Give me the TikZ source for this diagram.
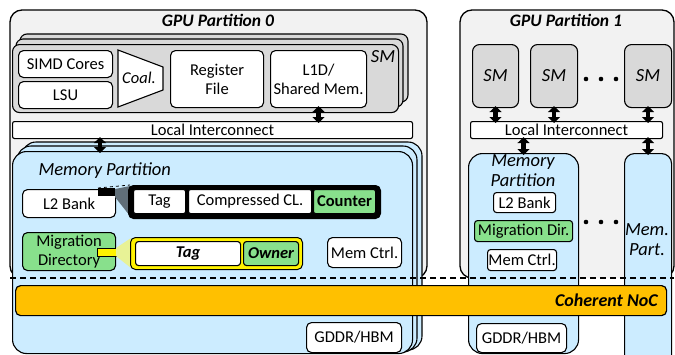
\documentclass[tikz,border=0pt]{standalone}
\usepackage{fontspec}
\setmainfont{Carlito}
\usetikzlibrary{arrows.meta}

\definecolor{partgray}{RGB}{242,242,242}
\definecolor{smgray}{RGB}{217,217,217}
\definecolor{memblue}{RGB}{204,236,255}
\definecolor{migreen}{RGB}{136,224,140}
\definecolor{nocorange}{RGB}{255,192,0}
\definecolor{paleyellow}{RGB}{232,242,150}
\definecolor{slate}{RGB}{96,110,120}

\tikzset{
  blk/.style={draw, fill=white, rounded corners=5pt, line width=1.1pt, anchor=north west, inner sep=0pt, align=center},
  part/.style={fill=partgray, rounded corners=12pt},
  partline/.style={line width=1.3pt, rounded corners=12pt},
  smbox/.style={draw, fill=smgray, rounded corners=7pt, line width=1.1pt, inner sep=0pt},
  membox/.style={draw, fill=memblue, rounded corners=14pt, line width=1.1pt, inner sep=0pt},
  dbl/.style={line width=4.5pt, {Triangle[width=12pt,length=6pt]}-{Triangle[width=12pt,length=6pt]}, shorten <=-2pt, shorten >=-2pt},
  big/.style={font=\fontsize{18.5}{20}\selectfont\itshape},
  ttl/.style={font=\fontsize{17.5}{20}\selectfont\bfseries\itshape},
}

\begin{document}
\begin{tikzpicture}[x=1pt, y=-1pt, font=\fontsize{16.5}{19}\selectfont]
    \useasboundingbox (0,0) rectangle (675,354);
    \clip (0,0) rectangle (675,354);

    % GPU partition 0
    \fill[part] (10,10) rectangle (427,278);
    \draw[partline] (22,278) -- (10,278) -- (10,10) -- (427,10) -- (427,278) -- (415,278);
    \node[ttl] (t0) at (218,20) {GPU Partition 0};

    % SM stack
    \draw[smbox] (20,34) rectangle (408,102);
    \draw[smbox] (16,39) rectangle (403,107);
    \node[smbox, anchor=north west, minimum width=386pt, minimum height=68pt] (sm0) at (12,44) {};
    \node[big] (smlbl) at (383,57) {SM};
    \node[blk, minimum width=94pt, minimum height=27pt] (simd) at (18,50) {SIMD Cores};
    \node[blk, minimum width=94pt, minimum height=27pt] (lsu) at (18,81) {LSU};
    \draw[fill=white, line width=1.1pt] (118,50) -- (163,67) -- (163,90) -- (118,107) -- cycle;
    \node (coal) at (139,78) {\itshape Coal.};
    \node[blk, minimum width=93pt, minimum height=57pt] (regf) at (170,50) {Register\\File};
    \node[blk, minimum width=96pt, minimum height=57pt] (lone) at (270,50) {L1D/\\Shared Mem.};

    % Local interconnect
    \node[blk, rounded corners=2pt, minimum width=400pt, minimum height=17pt] (li0) at (12,121) {Local Interconnect};

    % Memory partition stack
    \draw[membox] (22,142) rectangle (422,350);
    \draw[membox] (17,146) rectangle (417,352);
    \node[membox, anchor=north west, minimum width=400pt, minimum height=202pt] (mp0) at (12,151) {};
    \node[big, anchor=west] (mp0lbl) at (35,171) {Memory Partition};

    % L2 bank and compressed line
    \node[blk, minimum width=93pt, minimum height=28pt] (ltwo) at (22,189) {L2 Bank};
    \fill (98,188) rectangle (115,196);
    \fill[slate] (115,189) -- (130,186) -- (130,216) -- (115,197) -- cycle;
    \draw[dashed, line width=0.8pt] (98,188) -- (130,185);
    \node[draw, fill=black, rounded corners=5pt, line width=1pt, anchor=north west, minimum width=252pt, minimum height=33pt] (cl) at (128,185) {};
    \node[blk, rounded corners=2pt, minimum width=52pt, minimum height=24pt] (tag) at (133,189) {Tag};
    \node[blk, rounded corners=2pt, minimum width=123pt, minimum height=24pt] (ccl) at (188,189) {Compressed CL.};
    \node[blk, fill=migreen, rounded corners=2pt, minimum width=62pt, minimum height=24pt] (cnt) at (313,189) {\bfseries Counter};

    % Migration directory entry
    \node[blk, fill=migreen, minimum width=93pt, minimum height=38pt] (mig) at (22,232) {Migration\\Directory};
    \draw[fill=yellow, line width=0.8pt] (97,248) rectangle (116,256);
    \fill[paleyellow] (116,248) -- (131,238) -- (131,268) -- (116,256) -- cycle;
    \node[draw, fill=yellow, rounded corners=5pt, line width=1pt, anchor=north west, minimum width=172pt, minimum height=32pt] (dir) at (130,237) {};
    \node[blk, rounded corners=3pt, minimum width=105pt, minimum height=24pt] (dtag) at (135,241) {\bfseries\itshape Tag};
    \node[blk, fill=migreen, rounded corners=3pt, minimum width=55pt, minimum height=24pt] (own) at (243,241) {\bfseries\itshape Owner};
    \node[blk, minimum width=74pt, minimum height=30pt] (mc0) at (327,237) {Mem Ctrl.};

    % GPU partition 1
    \fill[part] (460,10) rectangle (674,278);
    \draw[partline] (472,278) -- (460,278) -- (460,10) -- (674,10) -- (674,278) -- (662,278);
    \node[ttl] (t1) at (566,20) {GPU Partition 1};
    \node[smbox, anchor=north west, minimum width=46pt, minimum height=63pt, big] (sma) at (472,44) {SM};
    \node[smbox, anchor=north west, minimum width=47pt, minimum height=63pt, big] (smb) at (530,44) {SM};
    \node[smbox, anchor=north west, minimum width=47pt, minimum height=63pt, big] (smc) at (624,44) {SM};
    \foreach \d in {586,601,616} \fill (\d,79) circle (2.3pt);
    \node[blk, rounded corners=2pt, minimum width=192pt, minimum height=17pt] (li1) at (470,121) {Local Interconnect};

    % Memory partitions of partition 1
    \node[membox, anchor=north west, minimum width=110pt, minimum height=200pt] (mp1) at (468,153) {};
    \node[big, align=center] (mp1lbl) at (523,171) {Memory\\Partition};
    \node[blk, rounded corners=3pt, minimum width=62pt, minimum height=20pt] (ltwob) at (493,192) {L2 Bank};
    \node[blk, fill=migreen, rounded corners=3pt, minimum width=98pt, minimum height=21pt] (migb) at (474,220) {Migration Dir.};
    \node[blk, rounded corners=3pt, minimum width=69pt, minimum height=21pt] (mc1) at (487,249) {Mem Ctrl.};
    \foreach \d in {586,601,616} \fill (\d,222) circle (2.3pt);
    \node[membox, rounded corners=10pt, anchor=north west, minimum width=47pt, minimum height=220pt] (mpx) at (624,153) {};
    \node[big, align=center] (mpxlbl) at (647,240) {Mem.\\Part.};

    % Partition border and NoC
    \draw[line width=1.4pt, dash pattern=on 6pt off 4pt] (10,278) -- (674,278);
    \node[draw, fill=nocorange, rounded corners=5pt, line width=1.2pt, anchor=north west, minimum width=651pt, minimum height=30pt] (noc) at (15,285) {};
    \node[font=\fontsize{18}{20}\selectfont\bfseries\itshape, anchor=east] (noclbl) at ([xshift=-6pt]noc.east) {Coherent NoC};
    \node[blk, minimum width=95pt, minimum height=30pt] (gd0) at (306,322) {GDDR/HBM};
    \node[blk, minimum width=90pt, minimum height=29pt] (gd1) at (476,323) {GDDR/HBM};

    % Links
    \coordinate (tap) at ([xshift=88pt]li0.south west);
    \draw[dbl] (lone.south) -- (lone.south |- li0.north);
    \draw[dbl] (tap) -- (tap |- mp0.north);
    \draw[dbl] (sma.south) -- (sma.south |- li1.north);
    \draw[dbl] (smb.south) -- (smb.south |- li1.north);
    \draw[dbl] (smc.south) -- (smc.south |- li1.north);
    \draw[dbl] (mp1.north |- li1.south) -- (mp1.north);
    \draw[dbl] (mpx.north |- li1.south) -- (mpx.north);
\end{tikzpicture}
\end{document}
